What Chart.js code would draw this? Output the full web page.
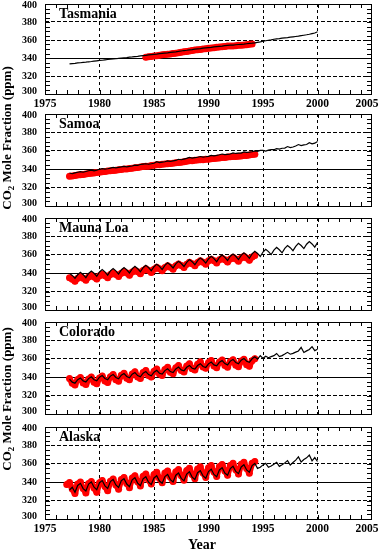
<!DOCTYPE html>
<html>
<head>
<meta charset="utf-8">
<script src="https://cdn.jsdelivr.net/npm/chart.js@4/dist/chart.umd.min.js"></script>
<style>
  body { margin: 0; background: #fff; }
  #wrap { position: relative; width: 380px; height: 550px; }
  #wrap canvas { position: absolute; left: 0; top: 0; }
</style>
</head>
<body>
<div id="wrap">
  <canvas id="p0" width="380" height="550"></canvas>
  <canvas id="p1" width="380" height="550"></canvas>
  <canvas id="p2" width="380" height="550"></canvas>
  <canvas id="p3" width="380" height="550"></canvas>
  <canvas id="p4" width="380" height="550"></canvas>
</div>
<script>
// ---- data (quarterly values, ppm) ----
const stations = ["Tasmania", "Samoa", "Mauna Loa", "Colorado", "Alaska"];
const xTicks = [1975, 1980, 1985, 1990, 1995, 2000, 2005];
const yTicks = [300, 320, 340, 360, 380, 400];
const STEP = 0.25;
const blackStart = 1977.25;
const redStart = [1984.25, 1977.25, 1977.25, 1977.25, 1977.0];

const tasBlack = [
  333.4, 333.8, 334.0,
  334.5, 334.7, 335.1, 335.4, 335.8, 336.1, 336.5, 336.9,
  337.3, 337.5, 337.9, 338.3, 338.7, 338.9, 339.2, 339.6,
  339.9, 340.2, 340.5, 340.9, 341.2, 341.6, 341.9, 342.4,
  342.7, 343.0, 343.4, 343.8, 344.1, 344.4, 344.8, 345.2,
  345.5, 345.8, 346.2, 346.6, 346.9, 347.3, 347.8, 348.3,
  348.6, 349.0, 349.4, 349.9, 350.2, 350.5, 350.9, 351.3,
  351.6, 351.9, 352.3, 352.7, 353.0, 353.3, 353.7, 354.0,
  354.3, 354.4, 354.7, 355.0, 355.2, 355.4, 355.8, 356.2,
  356.5, 356.9, 357.4, 357.9, 358.6, 359.2, 359.7, 360.2,
  360.8, 361.3, 361.6, 362.0, 362.4, 362.7, 363.1, 363.5,
  363.9, 364.3, 364.8, 365.3, 365.8, 366.4, 367.1, 367.8,
  369.2
];
const tasRed = [
  340.8, 341.4, 341.8, 342.2, 342.5, 343.0, 343.5, 343.8,
  344.1, 344.5, 345.1, 345.4, 345.8, 346.4, 346.9, 347.3,
  347.7, 348.3, 348.8, 349.1, 349.4, 349.9, 350.4, 350.7,
  351.0, 351.4, 351.9, 352.1, 352.4, 352.8, 353.2, 353.3,
  353.4, 353.7, 354.1, 354.2, 354.4, 354.8, 355.2, 355.5
];

const samBlack = [
  335.9, 335.1, 336.0,
  336.7, 337.4, 336.7, 337.5, 338.3, 338.9, 338.3, 339.0,
  339.9, 340.6, 340.0, 340.5, 341.1, 341.9, 341.4, 342.0,
  342.5, 343.1, 342.5, 343.0, 343.5, 344.4, 344.1, 345.1,
  345.5, 345.9, 345.4, 345.9, 346.5, 348.1, 347.1, 347.7,
  348.1, 349.1, 348.4, 349.1, 349.5, 350.8, 350.3, 351.0,
  351.7, 352.8, 352.0, 352.5, 353.0, 353.8, 353.1, 353.5,
  354.0, 355.0, 354.4, 355.0, 355.7, 356.5, 355.8, 356.2,
  356.5, 357.7, 357.1, 357.5, 357.5, 358.8, 358.3, 358.6,
  359.0, 359.9, 359.4, 360.4, 360.4, 359.7, 360.8, 361.2,
  361.2, 362.4, 361.8, 362.8, 362.9, 364.6, 363.4, 364.1,
  365.2, 366.8, 365.6, 366.4, 366.8, 368.7, 367.5, 368.3,
  370.2
];
const samRed = [
  332.4, 332.6, 333.2,
  333.6, 334.0, 334.2, 334.8, 335.2, 335.6, 335.8, 336.4,
  336.8, 337.2, 337.4, 338.0, 338.3, 338.7, 338.9, 339.4,
  339.8, 340.1, 340.2, 340.7, 341.0, 341.5, 341.8, 342.4,
  342.8, 343.2, 343.3, 343.9, 344.3, 344.8, 344.8, 345.3,
  345.6, 346.0, 346.1, 346.6, 346.9, 347.4, 347.6, 348.2,
  348.6, 349.1, 349.2, 349.7, 349.9, 350.2, 350.3, 350.7,
  350.9, 351.3, 351.5, 352.0, 352.3, 352.7, 352.8, 353.2,
  353.4, 353.7, 353.8, 354.2, 354.4, 354.8, 355.0, 355.5,
  355.9, 356.3
];

const mloBlack = [
  339.8, 337.6, 334.5,
  338.3, 340.9, 338.4, 335.1, 339.7, 342.3, 339.9, 336.6,
  341.3, 343.9, 341.4, 337.9, 342.5, 345.1, 342.5, 339.0,
  343.5, 346.2, 343.6, 340.3, 344.7, 347.4, 344.9, 341.6,
  346.0, 348.6, 346.1, 342.7, 347.0, 349.8, 347.4, 344.1,
  348.5, 351.3, 348.9, 345.7, 350.1, 352.9, 350.5, 347.3,
  351.8, 354.8, 352.5, 349.2, 353.7, 356.6, 354.3, 351.0,
  355.5, 358.3, 355.9, 352.5, 357.1, 359.8, 357.2, 353.8,
  358.4, 360.9, 358.4, 354.8, 359.4, 362.1, 359.7, 356.3,
  361.0, 363.9, 361.5, 358.2, 363.0, 366.0, 363.5, 360.2,
  365.0, 368.0, 365.5, 362.2, 367.0, 370.1, 367.7, 364.5,
  369.2, 372.5, 370.1, 366.8, 371.5, 374.5, 371.8, 368.3,
  373.3
];
const mloRed = [
  335.0, 333.5, 331.2,
  334.5, 336.3, 334.6, 332.4, 335.8, 337.6, 335.9, 333.7,
  337.1, 339.0, 337.3, 335.1, 338.5, 340.4, 338.7, 336.5,
  339.9, 341.8, 340.1, 337.8, 341.4, 343.3, 341.6, 339.3,
  342.9, 344.8, 343.1, 340.8, 344.4, 346.4, 344.8, 342.6,
  346.2, 348.2, 346.6, 344.4, 348.0, 350.0, 348.4, 346.2,
  349.8, 351.8, 350.2, 348.0, 351.6, 353.6, 352.0, 349.8,
  353.4, 355.2, 353.4, 351.2, 354.5, 356.3, 354.5, 352.1,
  355.5, 357.3, 355.5, 353.1, 356.5, 358.3, 356.5, 354.0,
  357.5, 359.2
];

const colBlack = [
  337.8, 334.6, 333.5,
  337.3, 339.1, 336.0, 334.8, 338.5, 340.4, 337.3, 336.1,
  340.0, 341.8, 338.6, 337.3, 341.2, 343.0, 339.7, 338.2,
  342.2, 344.0, 340.8, 339.3, 343.3, 345.1, 341.8, 340.4,
  344.4, 346.2, 342.9, 341.5, 345.5, 347.4, 344.3, 343.3,
  347.2, 349.2, 346.1, 345.1, 349.0, 351.0, 347.9, 346.9,
  350.8, 352.8, 349.7, 348.8, 352.7, 354.7, 351.6, 350.6,
  354.5, 356.4, 353.4, 352.3, 356.2, 358.0, 354.8, 353.4,
  357.5, 359.3, 356.0, 354.5, 358.5, 360.4, 357.3, 356.1,
  360.0, 362.1, 359.6, 363.5, 360.5, 362.8, 361.2, 362.4,
  363.4, 365.8, 362.4, 363.5, 365.2, 367.0, 365.0, 365.9,
  367.3, 368.5, 372.4, 366.9, 368.6, 370.2, 373.2, 368.9,
  370.4
];
const colRed = [
  338.5, 333.3, 331.5,
  337.5, 339.6, 333.8, 332.0, 338.0, 340.2, 334.5, 332.8,
  339.0, 341.4, 335.8, 334.2, 340.5, 342.9, 337.3, 335.7,
  342.0, 344.4, 338.8, 337.2, 343.5, 345.9, 340.3, 338.7,
  345.0, 347.4, 341.8, 340.2, 346.5, 349.0, 343.4, 341.9,
  348.3, 350.8, 345.3, 343.8, 350.2, 352.7, 347.2, 345.7,
  352.2, 354.7, 349.2, 347.7, 354.2, 356.7, 351.1, 349.6,
  356.0, 358.2, 352.3, 350.4, 356.6, 358.7, 352.8, 350.9,
  357.0, 359.1, 353.1, 351.4, 357.5, 359.6, 353.6, 351.9,
  358.0, 360.1
];

const alaBlack = [
  331.5, 334.5, 329.0,
  336.5, 338.8, 333.0, 330.5, 338.0, 340.3, 334.6, 331.9,
  339.5, 341.8, 336.0, 333.2, 340.6, 342.9, 337.0, 334.2,
  341.6, 343.9, 338.0, 335.2, 342.6, 344.9, 339.0, 336.3,
  343.6, 345.9, 340.0, 337.4, 344.6, 347.0, 341.3, 338.8,
  346.1, 348.5, 342.8, 340.3, 347.6, 350.0, 344.2, 341.5,
  348.9, 351.3, 345.5, 342.9, 350.3, 352.6, 346.8, 344.4,
  351.6, 354.1, 348.4, 346.0, 353.3, 355.7, 350.0, 347.6,
  354.9, 357.4, 351.7, 349.3, 356.6, 359.0, 353.3, 350.8,
  358.1, 360.4, 355.0, 356.2, 358.8, 360.5, 356.2, 357.6,
  359.6, 361.6, 357.2, 359.0, 361.0, 363.5, 358.6, 361.4,
  364.0, 367.5, 362.0, 364.6, 366.5, 369.5, 363.2, 366.8,
  362.5
];
const alaRed = [
  337.5, 339.6, 332.6, 327.6, 338.0, 340.1, 333.1, 328.2,
  338.5, 340.7, 333.8, 329.0, 339.5, 341.9, 335.2, 330.6,
  341.0, 343.5, 336.9, 332.4, 342.8, 345.2, 338.6, 334.0,
  344.5, 347.0, 340.5, 336.0, 346.5, 349.0, 342.5, 338.0,
  348.5, 350.9, 344.1, 339.4, 350.0, 352.3, 345.4, 340.7,
  351.3, 353.7, 346.9, 342.2, 352.8, 355.2, 348.4, 343.7,
  354.3, 356.7, 349.9, 345.1, 355.8, 358.1, 351.1, 346.3,
  357.0, 359.3, 352.3, 347.5, 358.2, 360.5, 353.6, 348.8,
  359.5, 361.8, 354.8, 349.8, 360.5, 362.5
];

const blackSeries = [tasBlack, samBlack, mloBlack, colBlack, alaBlack];
const redSeries = [tasRed, samRed, mloRed, colRed, alaRed];

// ---- layout ----
const W = 380, H = 550;
const boxes = [
  { top: 1, bottom: 94, xLabels: true },
  { top: 114, bottom: 206 },
  { top: 218, bottom: 310 },
  { top: 322, bottom: 414 },
  { top: 427, bottom: 519, xLabels: true }
];
const SERIF = '"Liberation Serif", "DejaVu Serif", serif';

function toPoints(vals, start) {
  return vals.map((v, i) => ({ x: start + i * STEP, y: v }));
}

function px(v) { return Math.round(v) + 0.5; }

// box, inward ticks, tick labels and station name
const framePlugin = {
  id: "frame",
  afterDraw(chart, args, opts) {
    const { ctx, chartArea: a, scales: { x, y } } = chart;
    ctx.save();
    ctx.strokeStyle = "#000";
    ctx.lineWidth = 1;
    ctx.setLineDash([]);
    ctx.beginPath();
    for (let yr = 1976; yr < 2005; yr++) {
      const xp = px(x.getPixelForValue(yr));
      ctx.moveTo(xp, a.top); ctx.lineTo(xp, a.top + 4);
      ctx.moveTo(xp, a.bottom); ctx.lineTo(xp, a.bottom - 4);
    }
    for (let v = 305; v < 400; v += 5) {
      const yp = px(y.getPixelForValue(v));
      ctx.moveTo(a.left, yp); ctx.lineTo(a.left + 5, yp);
      ctx.moveTo(a.right, yp); ctx.lineTo(a.right - 5, yp);
    }
    ctx.stroke();
    ctx.strokeRect(px(a.left), px(a.top), Math.round(a.right - a.left) - 1, Math.round(a.bottom - a.top));

    ctx.fillStyle = "#000";
    ctx.font = "bold 10px " + SERIF;
    ctx.textAlign = "right";
    ctx.textBaseline = "middle";
    yTicks.forEach(v => {
      let yp = y.getPixelForValue(v);
      if (v === 400) yp = Math.max(yp + 1.5, 4.5);
      if (v === 300) yp -= 3;
      ctx.fillText(String(v), 37, yp);
    });

    if (opts.xLabels) {
      ctx.font = "bold 11.5px " + SERIF;
      ctx.textAlign = "center";
      xTicks.forEach(v => {
        const w = ctx.measureText(String(v)).width;
        const xp = Math.min(x.getPixelForValue(v), W - 1.5 - w / 2);
        ctx.fillText(String(v), xp, a.bottom + 10.5);
      });
    }

    ctx.font = "bold 14px " + SERIF;
    ctx.textAlign = "left";
    ctx.fillText(opts.name, 59, a.top + 10.5);
    ctx.restore();
  }
};

// axis titles shared by the whole figure
function drawYTitle(ctx, cx, cy) {
  const big = "bold 13px " + SERIF, small = "bold 9px " + SERIF;
  const parts = [["CO", big, 0], ["2", small, 3], [" Mole Fraction (ppm)", big, 0]];
  ctx.save();
  ctx.translate(cx, cy);
  ctx.rotate(-Math.PI / 2);
  let w = 0;
  parts.forEach(p => { ctx.font = p[1]; w += ctx.measureText(p[0]).width; });
  let xx = -w / 2;
  ctx.textAlign = "left";
  ctx.textBaseline = "alphabetic";
  ctx.fillStyle = "#000";
  parts.forEach(p => {
    ctx.font = p[1];
    ctx.fillText(p[0], xx, 4.5 + p[2]);
    xx += ctx.measureText(p[0]).width;
  });
  ctx.restore();
}
const pageTextPlugin = {
  id: "pageText",
  afterDraw(chart) {
    const ctx = chart.ctx;
    drawYTitle(ctx, 6, 138);
    drawYTitle(ctx, 6, 399);
    ctx.save();
    ctx.font = "bold 14px " + SERIF;
    ctx.textAlign = "center";
    ctx.textBaseline = "middle";
    ctx.fillStyle = "#000";
    ctx.fillText("Year", 202, 545);
    ctx.restore();
  }
};

stations.forEach((name, i) => {
  const b = boxes[i];
  new Chart(document.getElementById("p" + i), {
    type: "line",
    data: {
      datasets: [
        {
          data: toPoints(blackSeries[i], blackStart),
          borderColor: "#000",
          borderWidth: 1.2,
          pointRadius: 0,
          tension: 0
        },
        {
          data: toPoints(redSeries[i], redStart[i]),
          borderColor: "#ff0000",
          borderWidth: 6,
          borderJoinStyle: "round",
          borderCapStyle: "round",
          pointRadius: 3.5,
          pointBorderWidth: 0,
          pointBackgroundColor: "#ff0000",
          tension: 0
        }
      ]
    },
    options: {
      responsive: false,
      animation: false,
      events: [],
      layout: { padding: { top: b.top, bottom: H - b.bottom, left: 0, right: 8 } },
      plugins: {
        legend: { display: false },
        tooltip: { enabled: false },
        frame: { name: name, xLabels: !!b.xLabels }
      },
      scales: {
        x: {
          type: "linear",
          min: 1975,
          max: 2005,
          ticks: { display: false, stepSize: 5 },
          grid: {
            drawTicks: false,
            lineWidth: 1,
            color: c => (c.tick && (c.tick.value === 1975 || c.tick.value === 2005)) ? "rgba(0,0,0,0)" : "#000"
          },
          border: { display: false, dash: [3, 3] },
          afterFit: s => { s.height = 0; }
        },
        y: {
          min: 300,
          max: 400,
          ticks: { display: false, stepSize: 20 },
          grid: {
            drawTicks: false,
            lineWidth: 1,
            color: c => (c.tick && (c.tick.value === 300 || c.tick.value === 400)) ? "rgba(0,0,0,0)" : "#000"
          },
          border: { display: false, dash: c => (c.tick && c.tick.value === 340) ? [] : [4, 2] },
          afterFit: s => { s.width = 45; }
        }
      }
    },
    plugins: i === 0 ? [framePlugin, pageTextPlugin] : [framePlugin]
  });
});
</script>
</body>
</html>
